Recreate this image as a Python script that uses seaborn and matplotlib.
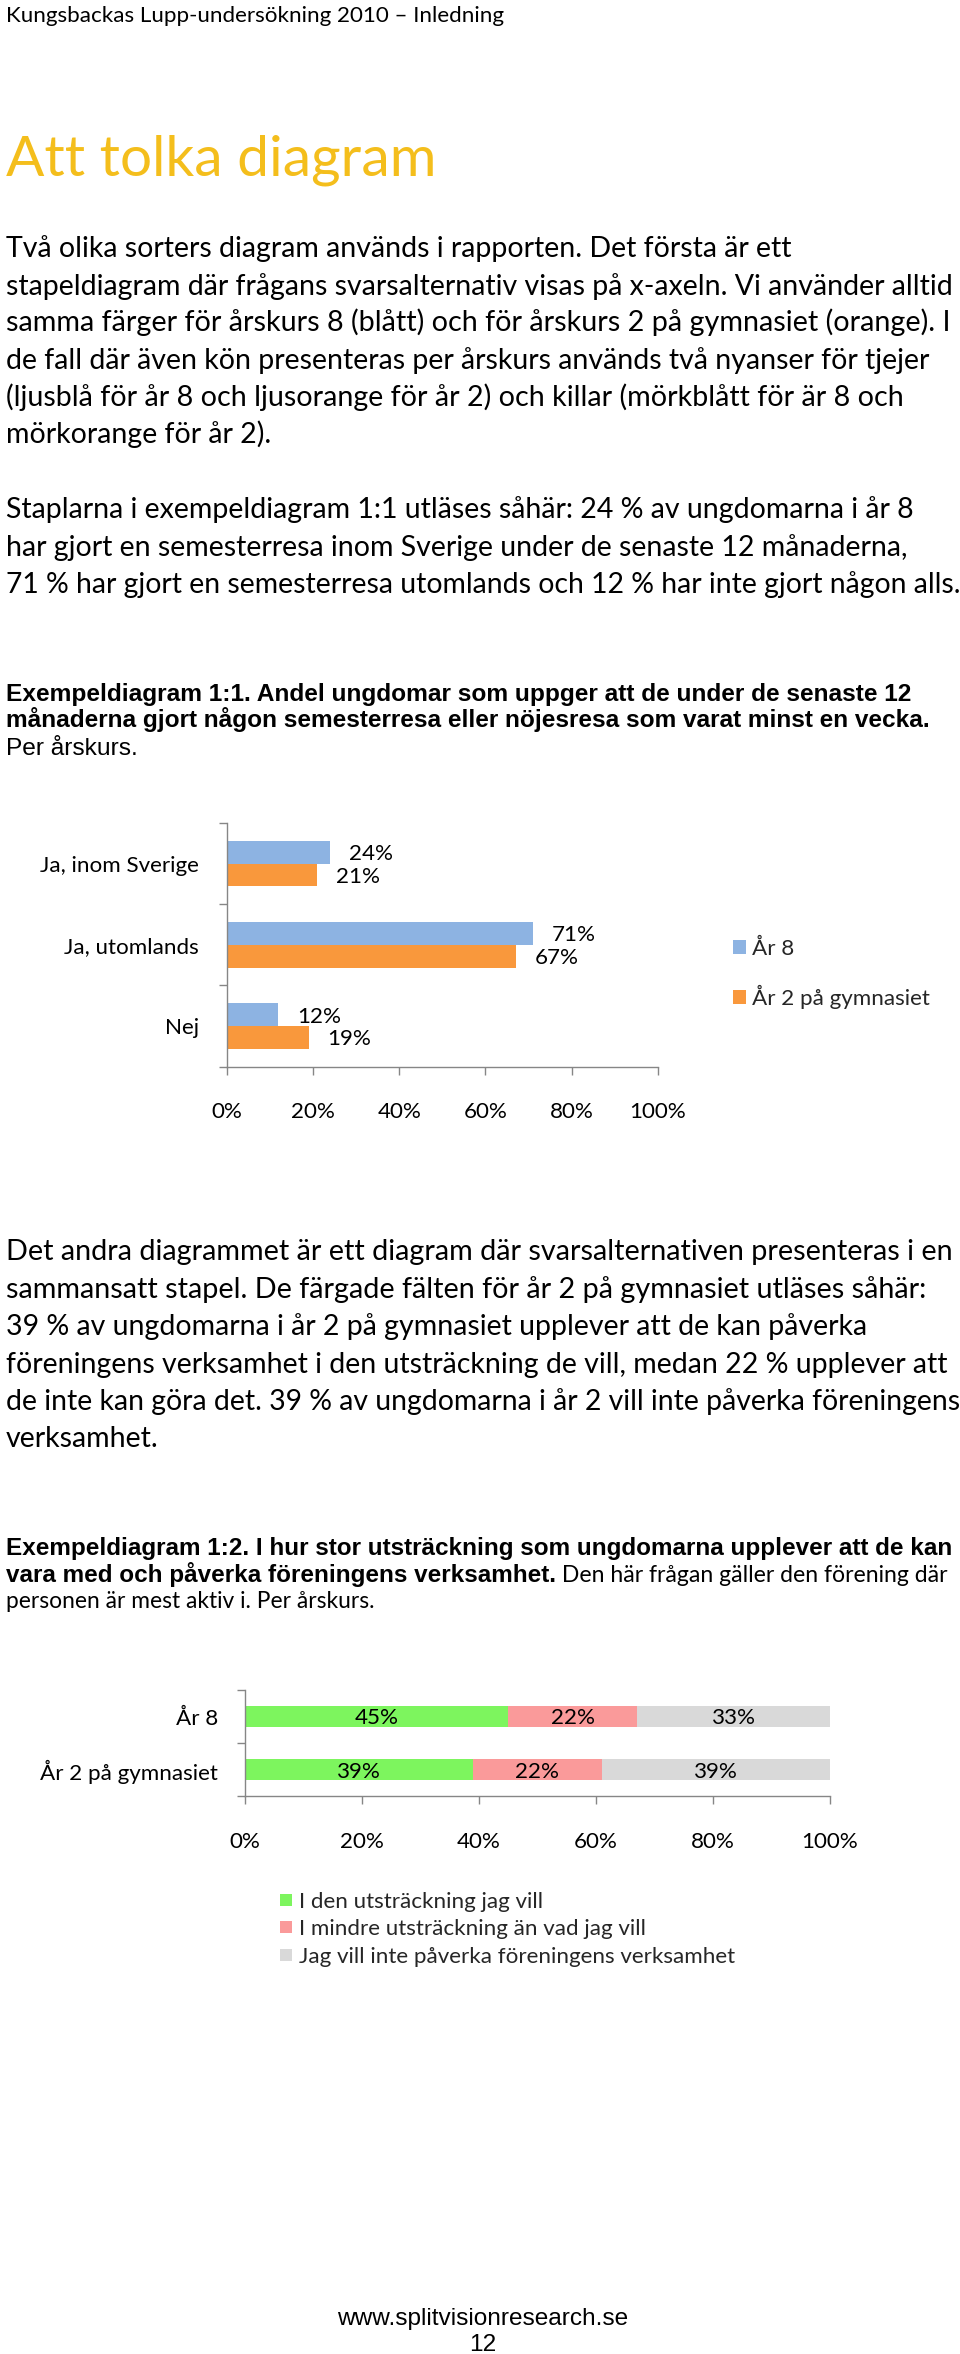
import numpy as np
import pandas as pd
import matplotlib
matplotlib.use("Agg")
import matplotlib.pyplot as plt
import seaborn as sns
from matplotlib.patches import Patch
from matplotlib.ticker import FixedLocator

# ---------------- data ----------------
header_text = "Kungsbackas Lupp-undersökning 2010 – Inledning"
title_text = "Att tolka diagram"
para1 = [
    "Två olika sorters diagram används i rapporten. Det första är ett",
    "stapeldiagram där frågans svarsalternativ visas på x-axeln. Vi använder alltid",
    "samma färger för årskurs 8 (blått) och för årskurs 2 på gymnasiet (orange). I",
    "de fall där även kön presenteras per årskurs används två nyanser för tjejer",
    "(ljusblå för år 8 och ljusorange för år 2) och killar (mörkblått för är 8 och",
    "mörkorange för år 2).",
]
para2 = [
    "Staplarna i exempeldiagram 1:1 utläses såhär: 24 % av ungdomarna i år 8",
    "har gjort en semesterresa inom Sverige under de senaste 12 månaderna,",
    "71 % har gjort en semesterresa utomlands och 12 % har inte gjort någon alls.",
]
caption1_bold = [
    "Exempeldiagram 1:1. Andel ungdomar som uppger att de under de senaste 12",
    "månaderna gjort någon semesterresa eller nöjesresa som varat minst en vecka.",
]
caption1_normal = "Per årskurs."
para3 = [
    "Det andra diagrammet är ett diagram där svarsalternativen presenteras i en",
    "sammansatt stapel. De färgade fälten för år 2 på gymnasiet utläses såhär:",
    "39 % av ungdomarna i år 2 på gymnasiet upplever att de kan påverka",
    "föreningens verksamhet i den utsträckning de vill, medan 22 % upplever att",
    "de inte kan göra det. 39 % av ungdomarna i år 2 vill inte påverka föreningens",
    "verksamhet.",
]
caption2_bold = [
    "Exempeldiagram 1:2. I hur stor utsträckning som ungdomarna upplever att de kan",
    "vara med och påverka föreningens verksamhet.",
]
caption2_normal = [
    " Den här frågan gäller den förening där",
    "personen är mest aktiv i. Per årskurs.",
]
footer_url = "www.splitvisionresearch.se"
footer_page = "12"

c1_categories = ["Ja, inom Sverige", "Ja, utomlands", "Nej"]
c1_groups = ["År 8", "År 2 på gymnasiet"]
c1_ar8 = [24, 71, 12]
c1_ar2 = [21, 67, 19]
c1_colors = ["#8DB3E2", "#F9983C"]

c2_groups = ["År 8", "År 2 på gymnasiet"]
c2_answers = ["I den utsträckning jag vill",
              "I mindre utsträckning än vad jag vill",
              "Jag vill inte påverka föreningens verksamhet"]
c2_want = [45, 39]
c2_less = [22, 22]
c2_not = [33, 39]
c2_colors = ["#7DF55E", "#FA9A9A", "#D9D9D9"]

x_ticks = [0, 20, 40, 60, 80, 100]
x_ticklabels = ["0%", "20%", "40%", "60%", "80%", "100%"]

# ---------------- setup ----------------
sns.set_theme(style="white")
CAL = ["Lato", "DejaVu Sans"]
ARIAL = ["Liberation Sans", "DejaVu Sans"]
plt.rcParams["font.family"] = CAL

W, H = 960, 2354
fig = plt.figure(figsize=(W / 100, H / 100), dpi=100, facecolor="white")
renderer = fig.canvas.get_renderer()
GRAY = "#868686"


def fy(y):
    return 1 - y / H


def place_lines(items, size0, family, **kw):
    """items: (x, baseline, text, right_end). Each long line fitted to its width;
    short lines get the mean size of the long ones."""
    texts, scales, longs = [], [], []
    maxt = max(e - x for x, _, _, e in items)
    for x, yb, s, end in items:
        t = fig.text(x / W, fy(yb), s, fontsize=size0, va="baseline", ha="left",
                     family=family, **kw)
        w = t.get_window_extent(renderer).width
        texts.append(t)
        scales.append((end - x) / w)
        longs.append((end - x) >= 0.6 * maxt)
    mean_k = np.mean([k for k, l in zip(scales, longs) if l])
    for t, k, l in zip(texts, scales, longs):
        t.set_fontsize(size0 * (k if l else mean_k))
    return texts


# header and title
place_lines([(6, 21.7, header_text, 501)], 17, CAL, color="black")
place_lines([(6, 175, title_text, 436)], 40, CAL, color="#F4BE1C")

# paragraph 1
b1 = [257, 294.5, 331.5, 369, 406, 443]
e1 = [790, 952, 946, 928, 897, 269]
place_lines([(6, b, s, e) for b, s, e in zip(b1, para1, e1)], 17, CAL, color="black")
# paragraph 2
b2 = [518.3, 556, 593]
e2 = [914, 909, 956]
place_lines([(6, b, s, e) for b, s, e in zip(b2, para2, e2)], 17, CAL, color="black")
# caption 1
cap1 = place_lines([(6, 700.7, caption1_bold[0], 915.5),
                    (6, 727.3, caption1_bold[1], 934)], 15, ARIAL,
                   color="black", fontweight="bold")
fig.text(6 / W, fy(755), caption1_normal, fontsize=cap1[0].get_fontsize(),
         family=ARIAL, va="baseline", ha="left", color="black")
# paragraph 3
b3 = [1260, 1297.7, 1335, 1372.7, 1410, 1446.7]
e3 = [950, 921.6, 864.7, 946, 956, 160]
place_lines([(6, b, s, e) for b, s, e in zip(b3, para3, e3)], 17, CAL, color="black")
# caption 2
cap2 = place_lines([(6, 1555, caption2_bold[0], 956),
                    (6, 1581.7, caption2_bold[1], 560)], 15, ARIAL,
                   color="black", fontweight="bold")
bold_end = cap2[1].get_window_extent(renderer).x1
place_lines([(bold_end, 1581.7, caption2_normal[0], 948),
             (6, 1608, caption2_normal[1], 373)], 15, CAL, color="black")

# footer
ft = place_lines([(337, 2325, footer_url, 629.5)], 15, ARIAL, color="black")
ft[0].set_x(483 / W)
ft[0].set_ha("center")
fig.text(483 / W, fy(2351), footer_page, fontsize=ft[0].get_fontsize(), family=ARIAL,
         ha="center", va="baseline", color="black")

# chart font size fitted to label width
tmp = fig.text(0, 0, "År 2 på gymnasiet", fontsize=15, family=CAL)
CFS = 15 * 178 / tmp.get_window_extent(renderer).width
tmp.remove()
CFS_PX = CFS * 100 / 72


def px_axes(left, top, right, bottom):
    return fig.add_axes([left / W, 1 - bottom / H, (right - left) / W, (bottom - top) / H])


def style_axes(ax, ncat, ypad):
    ax.set_xlim(0, 100)
    ax.set_ylim(ncat - 0.5, -0.5)
    ax.set_xticks(x_ticks)
    ax.set_xticklabels(x_ticklabels)
    ax.yaxis.set_minor_locator(FixedLocator([i - 0.5 for i in range(ncat + 1)]))
    ax.tick_params(axis="y", which="major", length=0, pad=ypad, labelsize=CFS,
                   labelcolor="black", left=False)
    ax.tick_params(axis="y", which="minor", length=5.6, width=1.0, color=GRAY,
                   direction="out", left=True)
    ax.tick_params(axis="x", which="major", length=5.6, width=1.0, color=GRAY,
                   direction="out", bottom=True, pad=20, labelsize=CFS,
                   labelcolor="black")
    ax.set_xlabel("")
    ax.set_ylabel("")
    for side in ["top", "right"]:
        ax.spines[side].set_visible(False)
    for side in ["left", "bottom"]:
        ax.spines[side].set_color(GRAY)
        ax.spines[side].set_linewidth(1.0)
    for lab in ax.get_xticklabels() + ax.get_yticklabels():
        lab.set_family(CAL)


# ---------------- chart 1 ----------------
df1 = pd.DataFrame({
    "kategori": c1_categories * 2,
    "grupp": [g for g in c1_groups for _ in c1_categories],
    "andel": c1_ar8 + c1_ar2,
})
ax1 = px_axes(226.7, 823, 658, 1066.7)
sns.barplot(data=df1, y="kategori", x="andel", hue="grupp", order=c1_categories,
            hue_order=c1_groups, palette=c1_colors, orient="h", width=0.56,
            saturation=1, linewidth=0, errorbar=None, legend=False, ax=ax1)
style_axes(ax1, len(c1_categories), 20)
for cont, vals in zip(ax1.containers, [c1_ar8, c1_ar2]):
    for patch, v in zip(cont.patches, vals):
        yc = patch.get_y() + patch.get_height() / 2
        ax1.annotate(f"{v}%", xy=(patch.get_x() + patch.get_width(), yc),
                     xytext=(13.7, 0), textcoords="offset points", ha="left",
                     va="center_baseline", fontsize=CFS, color="black", family=CAL)

handles1 = [Patch(facecolor=c, edgecolor="none") for c in c1_colors]
fig.legend(handles1, c1_groups, loc="center left",
           bbox_to_anchor=(732.7 / W, fy(973.5)), frameon=False,
           prop={"family": CAL, "size": CFS},
           handlelength=13 / CFS_PX, handleheight=13 / CFS_PX,
           handletextpad=6.7 / CFS_PX, labelspacing=1.15,
           borderpad=0, borderaxespad=0)

# ---------------- chart 2 ----------------
cum1 = np.array(c2_want)
cum2 = cum1 + np.array(c2_less)
cum3 = cum2 + np.array(c2_not)
ax2 = px_axes(245, 1690, 830, 1796)
for vals, col in [(cum3, c2_colors[2]), (cum2, c2_colors[1]), (cum1, c2_colors[0])]:
    sns.barplot(x=vals, y=c2_groups, order=c2_groups, orient="h", color=col,
                width=0.40, saturation=1, linewidth=0, errorbar=None, ax=ax2)
style_axes(ax2, len(c2_groups), 19.2)
starts = [np.zeros(2), cum1, cum2]
for seg_vals, st in zip([c2_want, c2_less, c2_not], starts):
    for i, v in enumerate(seg_vals):
        ax2.text(st[i] + v / 2, i, f"{v}%", ha="center", va="center_baseline",
                 fontsize=CFS, color="black", family=CAL)

handles2 = [Patch(facecolor=c, edgecolor="none") for c in c2_colors]
fig.legend(handles2, c2_answers, loc="center left",
           bbox_to_anchor=(280 / W, fy(1929.3)), frameon=False,
           prop={"family": CAL, "size": CFS},
           handlelength=11.7 / CFS_PX, handleheight=10 / CFS_PX,
           handletextpad=7.6 / CFS_PX, labelspacing=0.33,
           borderpad=0, borderaxespad=0)

fig.savefig("out.png", dpi=100, facecolor="white")
